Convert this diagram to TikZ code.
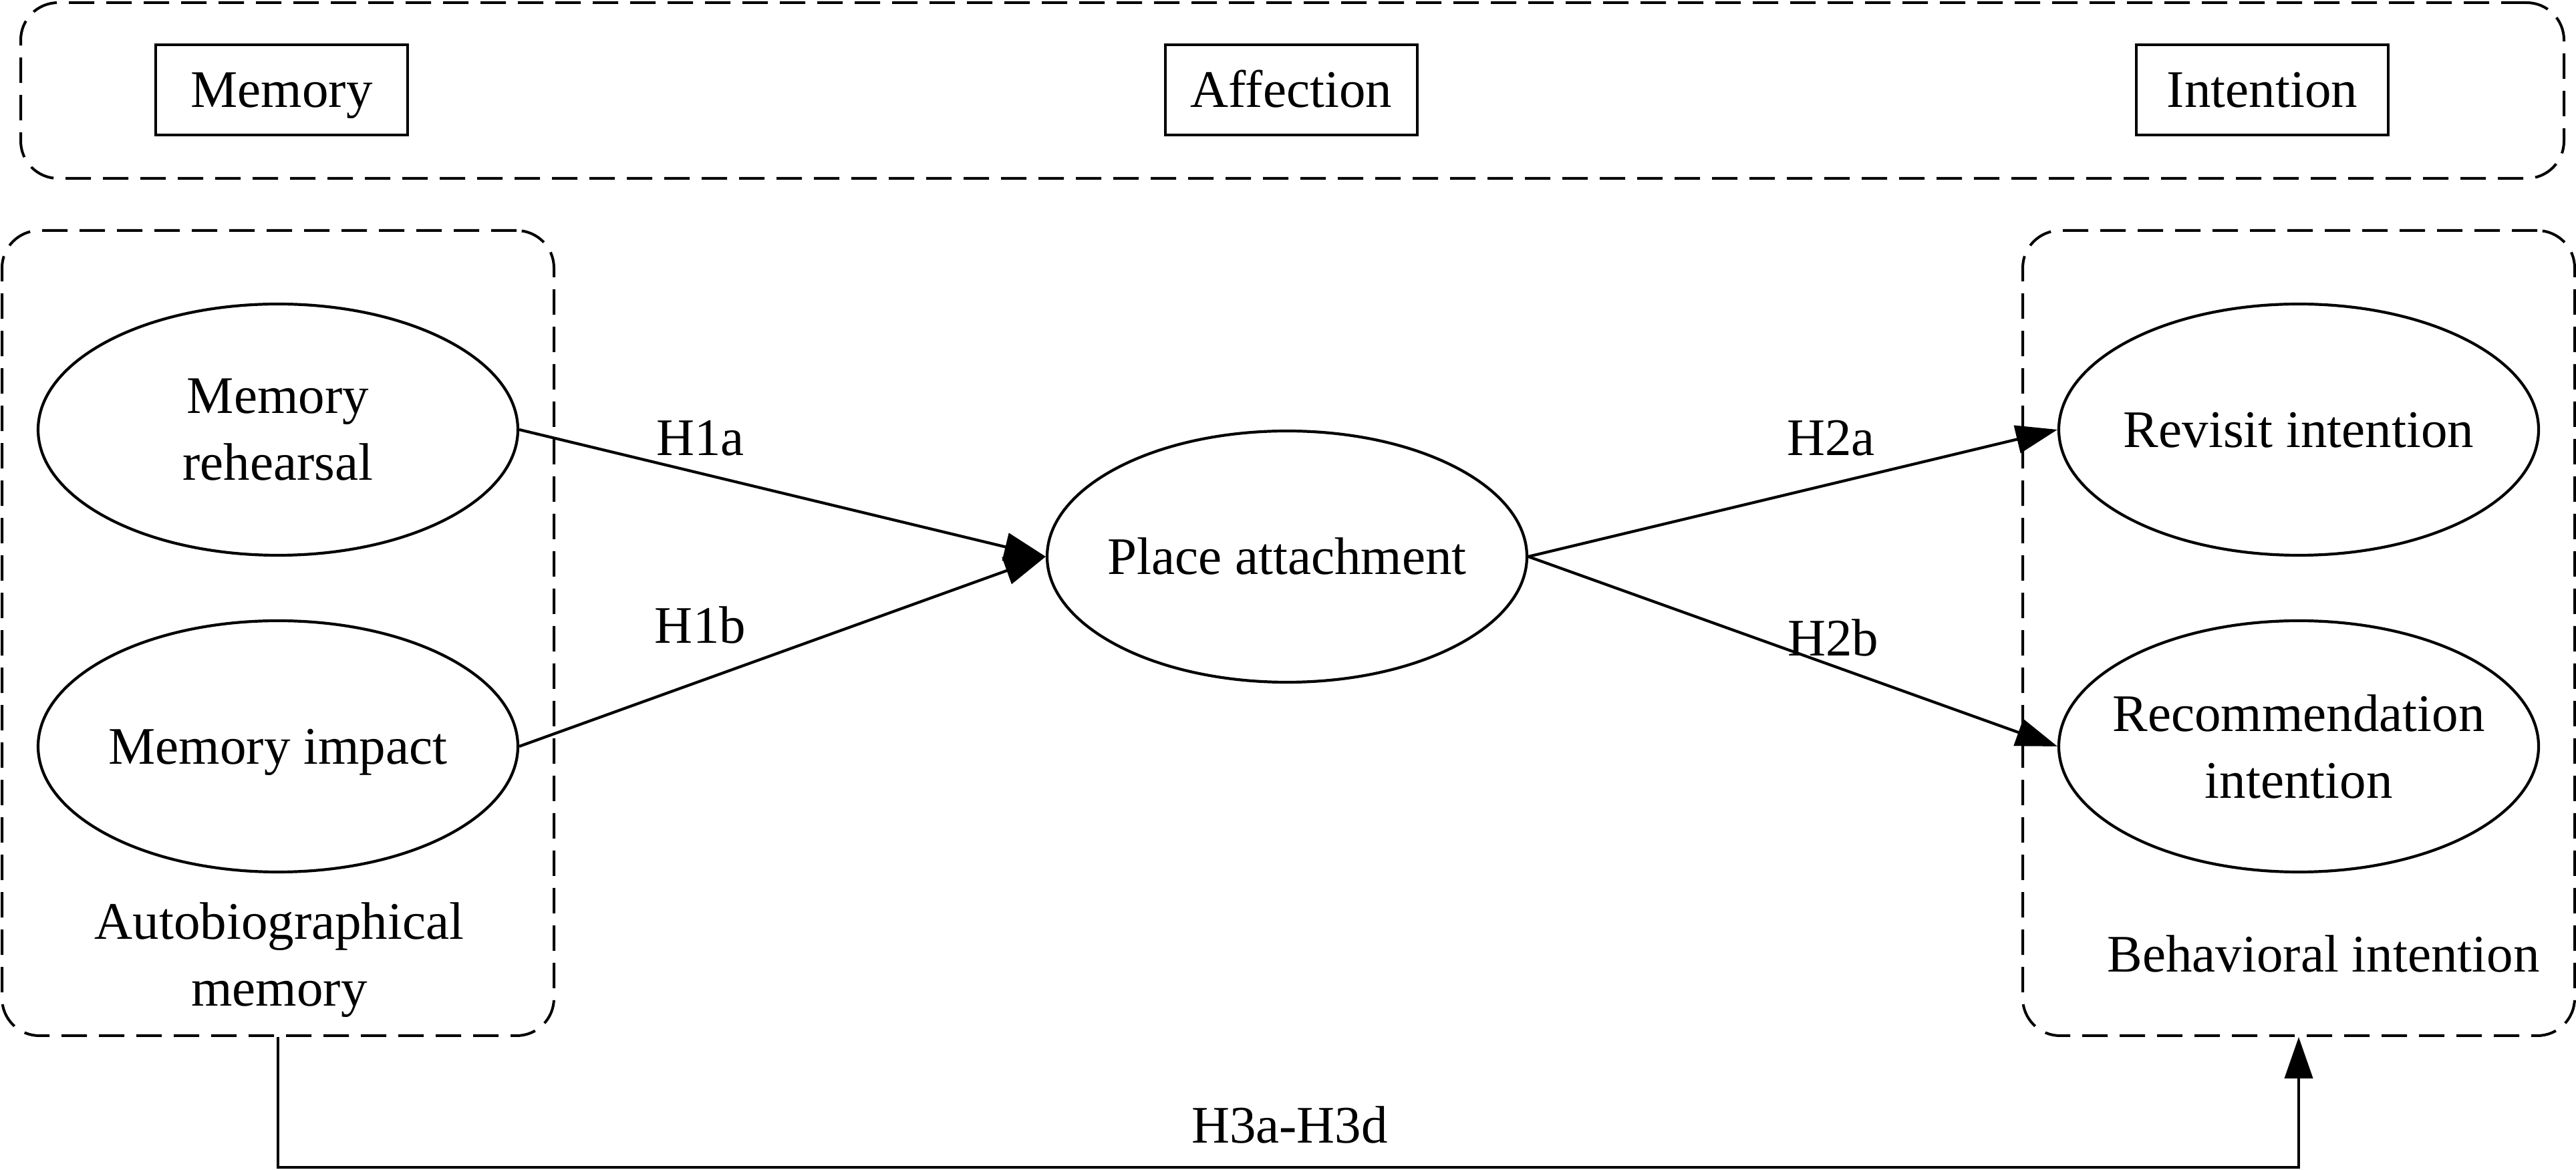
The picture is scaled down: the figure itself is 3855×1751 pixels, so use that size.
\documentclass[tikz,border=0pt]{standalone}
\usepackage{fontspec}
\setmainfont{Liberation Serif}
\usetikzlibrary{arrows.meta,shapes.geometric}
\begin{document}
\begin{tikzpicture}[x=0.25pt,y=-0.25pt,
  every node/.style={font=\fontsize{19.75pt}{25pt}\selectfont, inner sep=0pt},
  onel/.style={text height=13.07pt, text depth=0pt},
  ell/.style={draw, ellipse, line width=1.05pt, minimum width=179.5pt, minimum height=94pt},
  catbox/.style={draw, rectangle, line width=1.2pt, minimum width=94.25pt, minimum height=33.75pt, onel},
  grp/.style={draw, rectangle, line width=1pt, dash pattern=on 9.5pt off 4.5pt, rounded corners=14pt},
  conn/.style={line width=1.05pt, -{Triangle[length=15.5pt,width=10.5pt]}},
  lbl/.style={anchor=base}
]
\useasboundingbox (0,0) rectangle (3855,1751);

% group boxes
\node[grp, minimum width=951.5pt, minimum height=65.75pt] (top) at (1934,135.5) {};
\node[grp, minimum width=206.5pt, minimum height=301.25pt] (lb) at (416,947.5) {};
\node[grp, minimum width=206.5pt, minimum height=301.25pt] (rb) at (3440,947.5) {};

% category boxes
\node[catbox] (cmem) at (421.5,134.5) {Memory};
\node[catbox] (caff) at (1932.5,134.5) {Affection};
\node[catbox] (cint) at (3385.5,134.5) {Intention};

% ellipses
\node[ell] (mr) at (416,643) {};
\node[align=center] (mrt) at (mr.center) {Memory\\rehearsal};
\node[ell] (mi) at (416,1117) {};
\node[onel] (mit) at (mi.center) {Memory impact};
\node[ell] (pa) at (1926,833) {};
\node[onel] (pat) at (pa.center) {Place attachment};
\node[ell] (ri) at (3440,643) {};
\node[onel] (rit) at (ri.center) {Revisit intention};
\node[ell] (rc) at (3440,1117) {};
\node[align=center] (rct) at (rc.center) {Recommendation\\intention};

% group labels
\node[align=center] (abt) at (418,1437) {Autobiographical\\memory};
\node[lbl] (bit) at (3477,1455) {Behavioral intention};

% connectors
\draw[conn] (mr.east) -- (pa.west);
\draw[conn] (mi.east) -- (pa.west);
\draw[conn] (pa.east) -- (ri.west);
\draw[conn] (pa.east) -- (rc.west);
\coordinate (bend) at (416,1747);
\draw[conn] (lb.south) -- (bend) -| (rb.south);

% hypothesis labels
\node[lbl] (h1a) at (1048,682) {H1a};
\node[lbl] (h1b) at (1048,963) {H1b};
\node[lbl] (h2a) at (2740,682) {H2a};
\node[lbl] (h2b) at (2743,982) {H2b};
\node[lbl] (h3) at (1930,1711) {H3a-H3d};
\end{tikzpicture}
\end{document}
